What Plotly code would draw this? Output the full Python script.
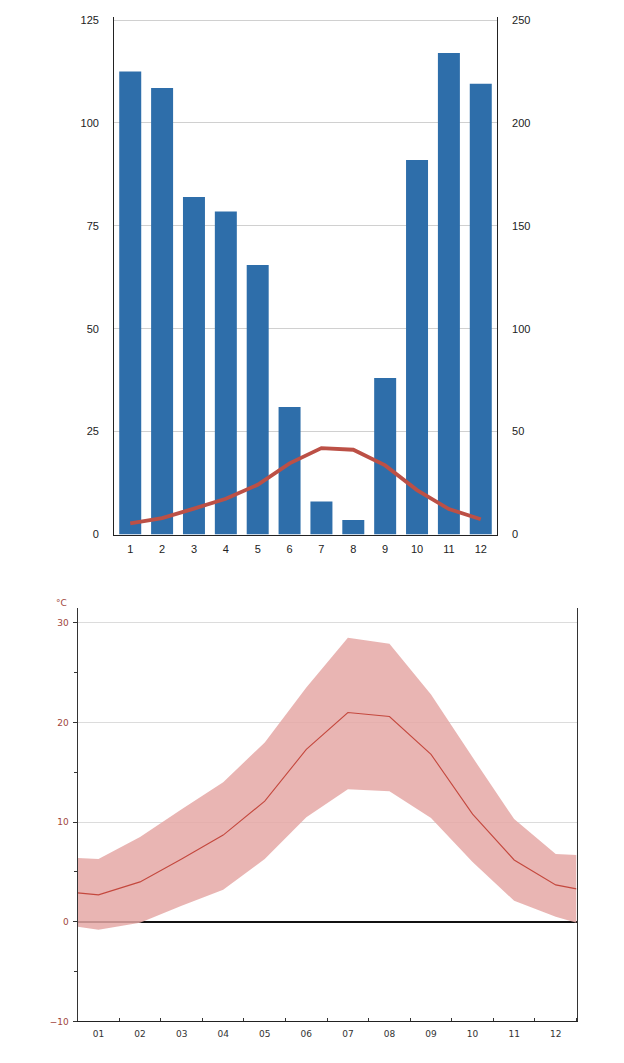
import plotly.graph_objects as go

W, H = 624, 1063
OFF = 8  # page body margin in the rendered page

# ---- data ----
months = list(range(1, 13))
month_labels_top = [str(m) for m in months]
month_labels_bottom = ["01", "02", "03", "04", "05", "06", "07", "08", "09", "10", "11", "12"]

precip_mm = [225, 217, 164, 157, 131, 62, 16, 7, 76, 182, 234, 219]
temp_mean = [2.7, 4.0, 6.3, 8.7, 12.1, 17.3, 21.0, 20.6, 16.8, 10.8, 6.2, 3.7]

# lower chart: band and mean, with the values read at the left/right plot edges
band_x = [0.5] + months + [12.5]
band_mean = [2.9] + temp_mean + [3.3]
band_upper = [6.4, 6.3, 8.5, 11.3, 14.0, 18.0, 23.5, 28.5, 27.9, 22.8, 16.5, 10.3, 6.8, 6.7]
band_lower = [-0.5, -0.8, -0.1, 1.6, 3.2, 6.3, 10.5, 13.3, 13.1, 10.4, 6.0, 2.1, 0.5, -0.1]

left_ticks = [0, 25, 50, 75, 100, 125]
right_ticks = [0, 50, 100, 150, 200, 250]
lower_ticks = [-10, 0, 10, 20, 30]


def px_x(p):
    return (p - OFF) / W


def px_y(p):
    return 1 - (p - OFF) / H


BLUE = "rgb(46,110,170)"
RED_THICK = "rgb(188,80,70)"
RED_THIN = "rgb(196,72,62)"
BAND = "rgba(229,168,166,0.85)"
LABEL_FONT = dict(family="Liberation Sans, Arial, sans-serif", size=11, color="#222")
SMALL_FONT = dict(family="DejaVu Sans, Verdana, sans-serif", size=9, color="#333")
RED_FONT = dict(family="DejaVu Sans, Verdana, sans-serif", size=9, color="rgb(160,70,60)")

fig = go.Figure()

# ---- top chart ----
fig.add_trace(go.Bar(
    x=months, y=precip_mm, marker=dict(color=BLUE, line=dict(width=0)),
    xaxis="x", yaxis="y", showlegend=False,
))
fig.add_trace(go.Scatter(
    x=months, y=temp_mean, mode="lines",
    line=dict(color=RED_THICK, width=3.8),
    xaxis="x", yaxis="y2", showlegend=False,
))

# ---- bottom chart ----
fig.add_trace(go.Scatter(
    x=band_x, y=band_lower, mode="lines", line=dict(width=0, color=BAND),
    xaxis="x2", yaxis="y3", showlegend=False, hoverinfo="skip",
))
fig.add_trace(go.Scatter(
    x=band_x, y=band_upper, mode="lines", line=dict(width=0, color=BAND),
    fill="tonexty", fillcolor=BAND,
    xaxis="x2", yaxis="y3", showlegend=False, hoverinfo="skip",
))
fig.add_trace(go.Scatter(
    x=band_x, y=band_mean, mode="lines", line=dict(color=RED_THIN, width=1.1),
    xaxis="x2", yaxis="y3", showlegend=False,
))

fig.update_layout(
    width=W, height=H,
    margin=dict(l=0, r=0, t=0, b=0),
    paper_bgcolor="white", plot_bgcolor="rgba(0,0,0,0)",
    bargap=0.31,
    xaxis=dict(
        domain=[px_x(114.3), px_x(496.7)], range=[0.5, 12.5],
        tickvals=months, ticktext=month_labels_top,
        showline=True, linecolor="#222", linewidth=1.3,
        showgrid=False, zeroline=False, ticks="", tickfont=LABEL_FONT,
        ticklabelstandoff=4, anchor="y",
    ),
    # precipitation (right side, primary so bars sit below the line)
    yaxis=dict(
        domain=[px_y(536), px_y(14)], range=[0, 251.5], side="right",
        tickvals=right_ticks, showline=True, linecolor="#222", linewidth=1.3,
        showgrid=True, gridcolor="#d0d0d0", gridwidth=1, zeroline=False,
        ticks="", tickfont=LABEL_FONT, ticklabelstandoff=12, anchor="x",
    ),
    # temperature (left side)
    yaxis2=dict(
        overlaying="y", side="left", range=[0, 125.75],
        tickvals=left_ticks, showline=True, linecolor="#222", linewidth=1.3,
        showgrid=False, zeroline=False, ticks="", tickfont=LABEL_FONT,
        ticklabelstandoff=12, anchor="x",
    ),
    xaxis2=dict(
        domain=[px_x(77.7), px_x(576.5)], range=[0.5, 12.5],
        tickvals=months, ticktext=month_labels_bottom,
        showline=True, linecolor="#222", linewidth=1.3,
        showgrid=False, zeroline=False, ticks="", tickfont=SMALL_FONT,
        ticklabelstandoff=4, anchor="y3",
        minor=dict(tick0=0.5, dtick=1, ticks="inside", ticklen=3, tickcolor="#333", showgrid=False),
    ),
    yaxis3=dict(
        domain=[px_y(1027), px_y(610)], range=[-10, 31.5],
        tickvals=lower_ticks, showline=True, linecolor="#333", linewidth=1.2,
        mirror=True,
        showgrid=True, gridcolor="#dcdcdc", gridwidth=1,
        zeroline=True, zerolinecolor="#111", zerolinewidth=1.5,
        ticks="outside", ticklen=4, tickcolor="#333", tickfont=RED_FONT,
        ticklabelstandoff=2, anchor="x2",
        minor=dict(dtick=5, ticks="outside", ticklen=3, tickcolor="#333", showgrid=False),
    ),
    annotations=[
        dict(text="°C", x=px_x(61), y=px_y(605), xref="paper", yref="paper",
             showarrow=False, font=RED_FONT, xanchor="center", yanchor="middle"),
    ],
)

fig.write_html("out.html")
